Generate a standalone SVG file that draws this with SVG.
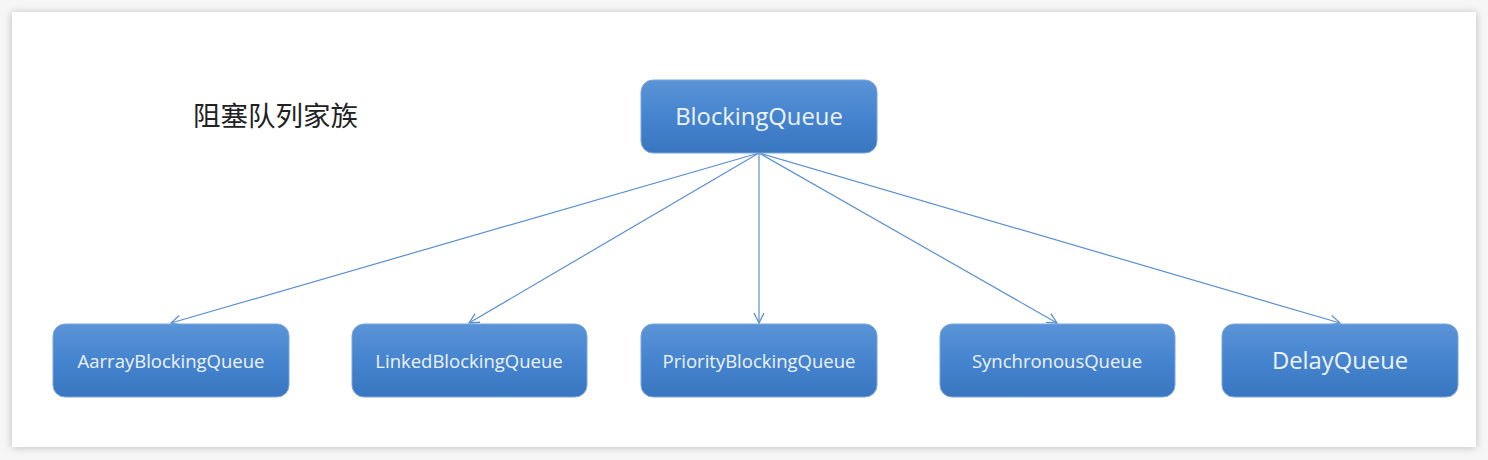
<svg xmlns="http://www.w3.org/2000/svg" width="1488" height="460" viewBox="0 0 1488 460">
<defs>
<linearGradient id="g" x1="0" y1="0" x2="0" y2="1">
<stop offset="0" stop-color="#5b94d7"/>
<stop offset="0.5" stop-color="#4584cf"/>
<stop offset="1" stop-color="#3a76c0"/>
</linearGradient>
<filter id="sh" x="-5%" y="-10%" width="110%" height="120%">
<feGaussianBlur stdDeviation="4"/>
</filter>
<marker id="ar" viewBox="0 0 12 12" refX="11" refY="6" markerWidth="12" markerHeight="12" markerUnits="userSpaceOnUse" orient="auto">
<path d="M1,1 L11,6 L1,11" fill="none" stroke="#5a8fd0" stroke-width="1.3"/>
</marker>
<style>
.n{fill:url(#g);stroke:#79a6de;stroke-width:1}
.t{font-family:"Open Sans","Noto Sans",sans-serif;fill:#eef3fa;text-anchor:middle;dominant-baseline:central}
.s{font-size:18.5px}
.b{font-size:23.8px}
.c{stroke:#5a8fd0;stroke-width:1.2;fill:none;marker-end:url(#ar)}
</style>
</defs>
<rect width="1488" height="460" fill="#f6f6f6"/>
<rect x="12" y="13" width="1464" height="434" fill="#000" opacity="0.25" filter="url(#sh)"/>
<rect x="12" y="12" width="1464" height="435" fill="#fff"/>
<text x="193" y="126" font-family="'Noto Sans CJK SC',sans-serif" font-size="27.5" fill="#222">阻塞队列家族</text>
<g id="connectors">
<line class="c" x1="759" y1="153" x2="171" y2="323"/>
<line class="c" x1="759" y1="153" x2="469" y2="323"/>
<line class="c" x1="759" y1="153" x2="759" y2="323"/>
<line class="c" x1="759" y1="153" x2="1057" y2="323"/>
<line class="c" x1="759" y1="153" x2="1340" y2="323"/>
</g>
<g id="BlockingQueue"><rect class="n" x="641" y="80" width="236" height="73" rx="12"/><text class="t b" x="759" y="116">BlockingQueue</text></g>
<g id="AarrayBlockingQueue"><rect class="n" x="53" y="324" width="236" height="73" rx="12"/><text class="t s" x="171" y="360">AarrayBlockingQueue</text></g>
<g id="LinkedBlockingQueue"><rect class="n" x="352" y="324" width="235" height="73" rx="12"/><text class="t s" x="469" y="360">LinkedBlockingQueue</text></g>
<g id="PriorityBlockingQueue"><rect class="n" x="641" y="324" width="236" height="73" rx="12"/><text class="t s" x="759" y="360">PriorityBlockingQueue</text></g>
<g id="SynchronousQueue"><rect class="n" x="940" y="324" width="235" height="73" rx="12"/><text class="t s" x="1057" y="360">SynchronousQueue</text></g>
<g id="DelayQueue"><rect class="n" x="1222" y="324" width="236" height="73" rx="12"/><text class="t b" x="1340" y="360">DelayQueue</text></g>
</svg>
